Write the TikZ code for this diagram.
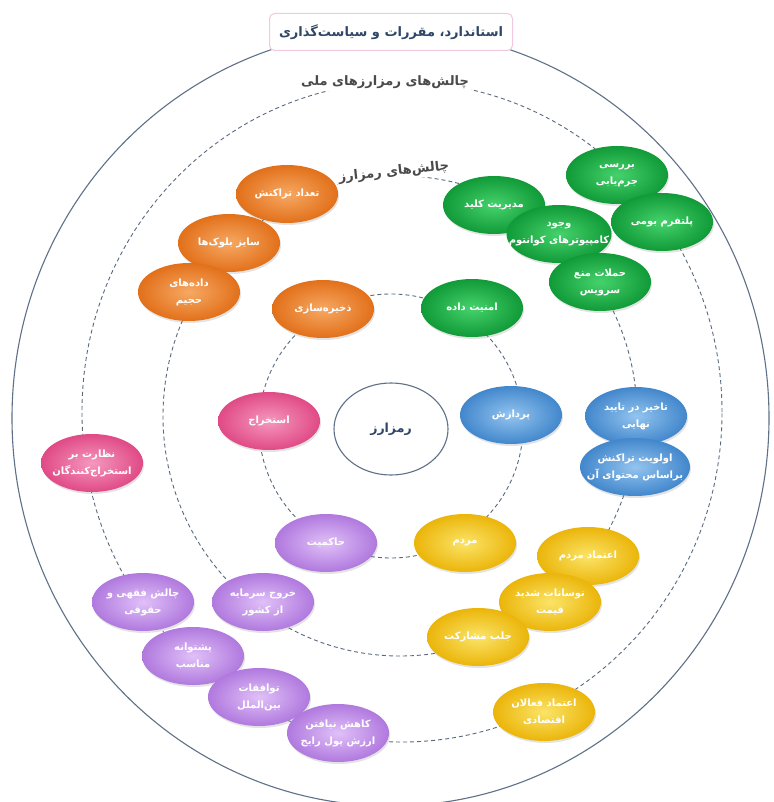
\documentclass[tikz,border=0pt]{standalone}
\usepackage{fontspec}
\newfontfamily\fa[Script=Arabic]{DejaVu Sans}
\TeXXeTstate=1
\usetikzlibrary{shapes.geometric,shadows}
\newcommand{\ftw}[1]{\beginR#1\endR}
\newcommand{\ftx}[1]{\makebox[0pt][c]{\beginR#1\endR}}
\definecolor{ringcol}{HTML}{5E7189}
\definecolor{dashcol}{HTML}{5A6A7E}
\definecolor{titlecol}{HTML}{2E4668}
\definecolor{titleline}{HTML}{F2C8DE}
\definecolor{labelcol}{HTML}{4A4A4A}
\definecolor{orD}{HTML}{E2701A}\definecolor{orL}{HTML}{F6A964}
\definecolor{grD}{HTML}{119A38}\definecolor{grL}{HTML}{45D26C}
\definecolor{blD}{HTML}{4287CC}\definecolor{blL}{HTML}{93C4EF}
\definecolor{pkD}{HTML}{E04A86}\definecolor{pkL}{HTML}{F598BE}
\definecolor{puD}{HTML}{B079DE}\definecolor{puL}{HTML}{E0C0F8}
\definecolor{yeD}{HTML}{EBB50A}\definecolor{yeL}{HTML}{FBE468}
\tikzset{
  ringline/.style={draw=ringcol, line width=1.1pt},
  dashring/.style={draw=dashcol, line width=0.9pt, dash pattern=on 4pt off 3pt},
  blob/.style={ellipse, minimum width=102pt, minimum height=58pt, inner sep=0pt,
    text=white, font=\fa\bfseries\fontsize{10}{17}\selectfont, align=center,
    drop shadow={opacity=0.22, shadow xshift=1pt, shadow yshift=-2pt}},
  orangeb/.style={blob, inner color=orL, outer color=orD},
  greenb/.style={blob, inner color=grL, outer color=grD},
  blueb/.style={blob, inner color=blL, outer color=blD},
  pinkb/.style={blob, inner color=pkL, outer color=pkD},
  purpleb/.style={blob, inner color=puL, outer color=puD},
  yellowb/.style={blob, inner color=yeL, outer color=yeD},
  titlebox/.style={rectangle, rounded corners=5pt, draw=titleline, line width=1pt,
    fill=white, minimum width=243pt, minimum height=37pt, text=titlecol,
    font=\fa\bfseries\fontsize{13}{15}\selectfont},
  ringlabel/.style={text=labelcol, font=\fa\bfseries\fontsize{13}{16}\selectfont, fill=white, inner sep=2pt},
  corebox/.style={ellipse, draw=ringcol, line width=1.1pt, fill=white,
    minimum width=114pt, minimum height=92pt, text=titlecol,
    font=\fa\bfseries\fontsize{12.5}{15}\selectfont}
}
\begin{document}
\begin{tikzpicture}[x=1pt,y=-1pt]
\useasboundingbox (0,0) rectangle (773,802);
\fill[white] (0,0) rectangle (773,802);
% rings
\draw[ringline] (390.5,418) ellipse [x radius=378.5pt, y radius=388pt];
\draw[dashring] (402,412) ellipse [x radius=320pt, y radius=330pt];
\draw[dashring] (400,416) ellipse [x radius=237pt, y radius=240pt];
\draw[dashring] (391,426) circle (132pt);
% labels
\node[titlebox] (title) at (391,32) {\ftw{استاندارد، مقررات و سیاست^^^^200cگذاری}};
\node[ringlabel] (national) at (385,82) {\ftw{چالش^^^^200cهای رمزارزهای ملی}};
\node[ringlabel, rotate=6] (crypto) at (394,172) {\ftw{چالش^^^^200cهای رمزارز}};
\node[corebox] (core) at (391,429) {\ftw{رمزارز}};
% orange
\node[orangeb] (tx) at (287,194) {\ftx{تعداد تراکنش}};
\node[orangeb] (block) at (229,243) {\ftx{سایز بلوک^^^^200cها}};
\node[orangeb] (bigdata) at (189,292) {\ftx{داده^^^^200cهای}\\\ftx{حجیم}};
\node[orangeb] (storage) at (323,309) {\ftx{ذخیره^^^^200cسازی}};
% green
\node[greenb] (forensic) at (617,175) {\ftx{بررسی}\\\ftx{جرم^^^^200cیابی}};
\node[greenb] (keymgmt) at (494,205) {\ftx{مدیریت کلید}};
\node[greenb] (platform) at (662,222) {\ftx{پلتفرم بومی}};
\node[greenb, minimum width=105pt] (quantum) at (559,234) {\ftx{وجود}\\\ftx{کامپیوترهای کوانتوم}};
\node[greenb] (dos) at (600,282) {\ftx{حملات منع}\\\ftx{سرویس}};
\node[greenb] (security) at (472,308) {\ftx{امنیت داده}};
% blue
\node[blueb] (process) at (511,415) {\ftx{پردازش}};
\node[blueb] (delay) at (636,416) {\ftx{تاخیر در تایید}\\\ftx{نهایی}};
\node[blueb, minimum width=110pt] (priority) at (635,467) {\ftx{اولویت تراکنش}\\\ftx{براساس محتوای آن}};
% pink
\node[pinkb] (mining) at (269,421) {\ftx{استخراج}};
\node[pinkb] (supervise) at (92,463) {\ftx{نظارت بر}\\\ftx{استخراج^^^^200cکنندگان}};
% purple
\node[purpleb] (gov) at (326,543) {\ftx{حاکمیت}};
\node[purpleb] (capital) at (263,602) {\ftx{خروج سرمایه}\\\ftx{از کشور}};
\node[purpleb] (legal) at (143,602) {\ftx{چالش فقهی و}\\\ftx{حقوقی}};
\node[purpleb] (backing) at (193,656) {\ftx{پشتوانه}\\\ftx{مناسب}};
\node[purpleb] (intl) at (259,697) {\ftx{توافقات}\\\ftx{بین^^^^200cالملل}};
\node[purpleb] (currency) at (338,733) {\ftx{کاهش نیافتن}\\\ftx{ارزش پول رایج}};
% yellow
\node[yellowb] (people) at (465,543) {\ftx{مردم}};
\node[yellowb] (trust) at (588,556) {\ftx{اعتماد مردم}};
\node[yellowb] (volatility) at (550,602) {\ftx{نوسانات شدید}\\\ftx{قیمت}};
\node[yellowb] (engage) at (478,637) {\ftx{جلب مشارکت}};
\node[yellowb] (econ) at (544,712) {\ftx{اعتماد فعالان}\\\ftx{اقتصادی}};
\end{tikzpicture}
\end{document}
